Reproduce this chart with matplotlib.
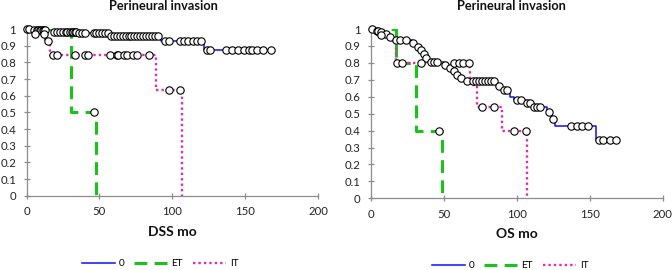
import numpy as np
import matplotlib
matplotlib.use("Agg")
import matplotlib.pyplot as plt
from matplotlib.lines import Line2D
from matplotlib.ticker import FuncFormatter

plt.rcParams['font.family'] = ['Lato', 'DejaVu Sans']

# ---------------- data ----------------
title_text = "Perineural invasion"
xlabels = ["DSS mo", "OS mo"]
group_labels = ["0", "ET", "IT"]

# DSS panel
dss_0_times = [4, 18.5, 35, 57, 92.5, 122]
dss_0_surv = [0.994, 0.984, 0.974, 0.96, 0.93, 0.877]
dss_0_cens = [0, 2, 5, 7, 8, 9, 10, 11, 12, 13, 19, 21, 23, 25, 27, 28, 30, 31, 32,
              33, 34, 36, 38, 40, 46, 48, 50, 52, 54, 56, 58, 60, 62, 64, 66, 68, 70,
              72, 74, 76, 78, 80, 82, 84, 86, 88, 90, 95, 98, 105, 108, 111, 114,
              117, 120, 124, 126, 137, 141, 145, 149, 153, 155, 158, 162, 168]

dss_et_times = [30.5, 48]
dss_et_surv = [0.5, 0.0]
dss_et_cens = [46.4]

dss_it_times = [4, 13, 16, 89, 106.5]
dss_it_surv = [0.968, 0.928, 0.845, 0.634, 0.0]
dss_it_cens = [6, 12, 15, 18, 21, 33, 40, 42, 57, 62, 63, 67, 69, 73, 76, 84, 98, 105]

# OS panel
os_0_times = [3, 6, 9, 12, 15, 28, 31, 33, 35, 37, 39, 50, 53, 56, 58, 61, 64, 86,
              90, 95, 98, 106, 110, 121, 124, 126, 154]
os_0_surv = [0.99, 0.98, 0.97, 0.955, 0.935, 0.915, 0.895, 0.875, 0.855, 0.83, 0.805,
             0.79, 0.77, 0.75, 0.73, 0.71, 0.69, 0.665, 0.64, 0.60, 0.58, 0.56, 0.54,
             0.51, 0.47, 0.43, 0.345]
os_0_cens = [1, 4, 5, 7, 10, 13, 17, 20, 24, 29, 32, 34, 36, 38, 41, 43, 45, 51, 54,
             57, 59, 62, 66, 70, 72, 74, 76, 78, 80, 82, 84, 88, 91, 93, 100, 103, 107,
             109, 112, 114, 116, 122, 125, 137, 141, 145, 149, 156, 159, 164, 168]

os_et_times = [17, 31, 48.5]
os_et_surv = [0.80, 0.40, 0.0]
os_et_cens = [46.5]

os_it_times = [4, 12, 17, 68, 73, 90, 107]
os_it_surv = [0.967, 0.93, 0.80, 0.67, 0.537, 0.40, 0.0]
os_it_cens = [7, 18, 21, 34, 57, 60, 63, 67, 76, 84, 98, 106]

x_ticks = [0, 50, 100, 150, 200]
y_ticks = [0, 0.1, 0.2, 0.3, 0.4, 0.5, 0.6, 0.7, 0.8, 0.9, 1.0]

# ---------------- style ----------------
c_0 = "#1010F0"
c_et = "#19C419"
c_it = "#E02CB0"
spine_c = "#8C8C8C"

styles = {
    "0": dict(color=c_0, lw=1.1, ls="-"),
    "ET": dict(color=c_et, lw=2.2, ls=(0, (4.2, 2.4))),
    "IT": dict(color=c_it, lw=1.7, ls=(0, (1, 1.3))),
}


def surv_at(times, surv, t):
    tt = np.concatenate([[0.0], np.asarray(times, float)])
    ss = np.concatenate([[1.0], np.asarray(surv, float)])
    idx = np.searchsorted(tt, t, side="right") - 1
    return ss[idx]


def draw_curve(ax, times, surv, cens, key):
    tmax = max(max(times), max(cens)) if cens else max(times)
    if surv[-1] == 0:
        tmax = times[-1]
    xs = np.concatenate([[0.0], times, [tmax]])
    ys = np.concatenate([[1.0], surv, [surv[-1]]])
    ax.plot(xs, ys, drawstyle="steps-post", zorder=2, solid_capstyle="butt",
            dash_capstyle="butt", **styles[key])
    return [(c, surv_at(times, surv, c)) for c in cens]


fig = plt.figure(figsize=(6.72, 2.70), dpi=100)
W, H = 672.0, 270.0

panels = [
    dict(rect=(26.5, 318.0, 29.0, 195.7),
         curves=[(dss_0_times, dss_0_surv, dss_0_cens, "0"),
                 (dss_et_times, dss_et_surv, dss_et_cens, "ET"),
                 (dss_it_times, dss_it_surv, dss_it_cens, "IT")],
         title_x=163, xlabel_y=231.5, legend_x=160, legend_y=264),
    dict(rect=(371.0, 662.7, 29.0, 198.3),
         curves=[(os_0_times, os_0_surv, os_0_cens, "0"),
                 (os_et_times, os_et_surv, os_et_cens, "ET"),
                 (os_it_times, os_it_surv, os_it_cens, "IT")],
         title_x=511, xlabel_y=234, legend_x=510, legend_y=266),
]

for i, p in enumerate(panels):
    x0, x1, ytop, ybot = p["rect"]
    ax = fig.add_axes([x0 / W, 1 - ybot / H, (x1 - x0) / W, (ybot - ytop) / H])
    marks = []
    for times, surv, cens, key in p["curves"]:
        marks += draw_curve(ax, times, surv, cens, key)
    mx = [m[0] for m in marks]
    my = [m[1] for m in marks]
    ax.plot(mx, my, ls="none", marker="o", ms=5.3, mfc="white", mec="black",
            mew=0.8, zorder=3, clip_on=False)

    ax.set_xlim(0, 200)
    ax.set_ylim(0, 1)
    ax.set_xticks(x_ticks)
    ax.set_yticks(y_ticks)
    ax.xaxis.set_major_formatter(FuncFormatter(lambda v, pos: "%g" % v))
    ax.yaxis.set_major_formatter(FuncFormatter(lambda v, pos: "%g" % round(v, 1)))
    for s in ["top", "right"]:
        ax.spines[s].set_visible(False)
    for s in ["left", "bottom"]:
        ax.spines[s].set_color(spine_c)
        ax.spines[s].set_linewidth(0.9)
    ax.tick_params(axis="both", direction="inout", length=5, width=0.9,
                   color=spine_c, labelsize=8.2, labelcolor="#222222")
    ax.tick_params(axis="x", pad=5)
    ax.tick_params(axis="y", pad=5)
    ax.patch.set_alpha(0)

    fig.text(p["title_x"] / W, 1 - 6.5 / H, title_text, ha="center", va="center",
             fontsize=9.2, fontweight="bold", color="#111111")
    fig.text((x0 + x1) / 2 / W, 1 - p["xlabel_y"] / H, xlabels[i], ha="center",
             va="center", fontsize=10, fontweight="bold", color="#111111")

    handles = [Line2D([0], [0], **styles[k]) for k in group_labels]
    fig.legend(handles, group_labels, loc="center",
               bbox_to_anchor=(p["legend_x"] / W, 1 - p["legend_y"] / H),
               ncol=3, frameon=False, fontsize=7.2, handlelength=3.3,
               handletextpad=0.4, columnspacing=1.0, borderpad=0.1)

fig.savefig("out.png", dpi=100)
